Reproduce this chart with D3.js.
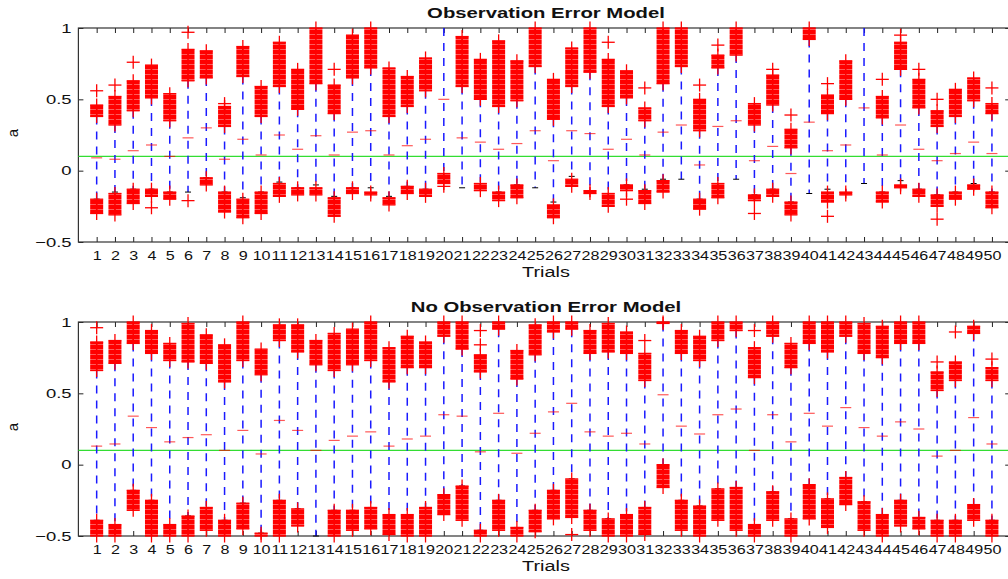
<!DOCTYPE html>
<html>
<head>
<meta charset="utf-8">
<script src="https://cdn.jsdelivr.net/npm/d3@7"></script>
<style>
  body { margin: 0; background: #fff; }
  text { font-family: "Liberation Sans", Arial, sans-serif; }
</style>
</head>
<body>
<div id="chart"></div>
<script>
const trials = [1,2,3,4,5,6,7,8,9,10,11,12,13,14,15,16,17,18,19,20,21,22,23,24,25,
  26,27,28,29,30,31,32,33,34,35,36,37,38,39,40,41,42,43,44,45,46,47,48,49,50];
const yTicks = [-0.5, 0, 0.5, 1];
const refLine = 0.1;

// ---- Observation Error Model ----
// dense outlier clusters [low, high], null where there is none
const obsUpper = [[0.38,0.46],[0.32,0.52],[0.42,0.63],[0.51,0.74],[0.35,0.54],[0.63,0.85],[0.65,0.84],[0.31,0.45],[0.66,0.87],[0.38,0.59],
  [0.59,0.90],[0.43,0.71],[0.61,1.00],[0.40,0.60],[0.65,0.95],[0.72,1.00],[0.38,0.72],[0.45,0.66],[0.56,0.79],null,
  [0.59,0.94],[0.50,0.78],[0.45,0.91],[0.49,0.77],[0.73,1.00],[0.36,0.64],[0.59,0.86],[0.69,1.00],[0.45,0.78],[0.51,0.70],
  [0.35,0.44],[0.61,1.00],[0.73,1.00],[0.28,0.50],[0.72,0.81],[0.81,1.00],[0.32,0.47],[0.46,0.67],[0.16,0.29],[0.92,1.00],
  [0.40,0.53],[0.50,0.77],null,[0.37,0.52],[0.71,0.90],[0.44,0.64],[0.31,0.42],[0.38,0.57],[0.49,0.65],[0.40,0.47]];
const obsMedian = [0.09,0.08,0.14,0.18,0.10,0.23,0.30,0.08,0.22,0.11,0.25,0.15,0.245,0.11,0.27,0.28,0.11,0.175,0.22,0.50,
  0.23,0.20,0.15,0.19,0.28,0.07,0.28,0.26,0.15,0.22,0.11,0.27,0.32,0.04,0.31,0.35,0.07,0.17,-0.02,0.34,
  0.14,0.18,0.44,0.11,0.32,0.15,0.07,0.12,0.20,0.12];
const obsWhiskerLo = [-0.20,-0.15,-0.13,-0.13,-0.15,-0.15,-0.05,-0.15,-0.19,-0.15,-0.08,-0.12,-0.10,-0.18,-0.12,-0.12,-0.18,-0.11,-0.13,-0.02,
  -0.12,-0.09,-0.15,-0.10,-0.12,-0.22,-0.04,-0.14,-0.16,-0.10,-0.13,-0.06,-0.06,-0.20,-0.09,-0.06,-0.17,-0.13,-0.22,-0.16,
  -0.13,-0.16,-0.09,-0.15,-0.07,-0.13,-0.17,-0.15,-0.09,-0.15];
const obsLower = [[-0.30,-0.20],[-0.31,-0.16],[-0.23,-0.13],[-0.18,-0.13],[-0.20,-0.15],null,[-0.10,-0.05],[-0.29,-0.15],[-0.33,-0.20],[-0.30,-0.15],
  [-0.18,-0.09],[-0.17,-0.12],[-0.17,-0.12],[-0.32,-0.19],[-0.16,-0.12],[-0.17,-0.15],[-0.24,-0.19],[-0.16,-0.11],[-0.18,-0.13],[-0.09,-0.02],
  null,[-0.14,-0.09],[-0.21,-0.15],[-0.19,-0.10],null,[-0.33,-0.24],[-0.11,-0.06],[-0.16,-0.14],[-0.25,-0.16],[-0.14,-0.10],
  [-0.23,-0.14],[-0.15,-0.07],null,[-0.27,-0.20],[-0.19,-0.09],null,[-0.21,-0.17],[-0.18,-0.13],[-0.31,-0.22],null,
  [-0.22,-0.15],[-0.17,-0.15],null,[-0.22,-0.15],[-0.12,-0.10],[-0.18,-0.13],[-0.25,-0.17],[-0.20,-0.15],[-0.13,-0.10],[-0.26,-0.15]];
// isolated outliers [trial, value]
const obsExtra = [[1,0.56],[2,0.60],[3,0.76],[4,-0.26],[6,0.97],[6,-0.21],[8,0.47],[14,0.71],[20,-0.11],[29,0.90],
  [30,-0.20],[31,0.58],[34,0.60],[35,0.88],[37,-0.30],[38,0.71],[39,0.39],[41,0.61],[41,-0.32],[44,0.64],
  [45,0.95],[46,0.71],[47,0.50],[47,-0.34],[50,0.58]];

// ---- No Observation Error Model ----
const noObsUpper = [[0.66,0.86],[0.71,0.87],[0.85,1.00],[0.78,0.94],[0.73,0.85],[0.72,0.99],[0.71,0.91],[0.58,0.84],[0.73,1.00],[0.63,0.81],
  [0.87,0.98],[0.79,0.98],[0.70,0.87],[0.66,0.92],[0.70,0.95],[0.73,1.00],[0.58,0.82],[0.68,0.90],[0.68,0.86],[0.90,1.00],
  [0.81,1.00],[0.65,0.77],[0.95,1.00],[0.60,0.80],[0.77,0.98],[0.93,1.00],[0.95,1.00],[0.78,0.94],[0.79,0.99],[0.78,0.93],
  [0.59,0.78],[0.99,1.00],[0.78,0.94],[0.73,0.90],[0.87,1.00],[0.94,1.00],[0.61,0.82],[0.90,1.00],[0.68,0.85],[0.85,1.00],
  [0.79,1.00],[0.90,1.00],[0.78,0.99],[0.75,0.97],[0.85,1.00],[0.85,1.00],[0.52,0.65],[0.59,0.72],[0.92,0.97],[0.59,0.68]];
const noObsMedian = [0.13,0.145,0.34,0.26,0.16,0.19,0.21,0.10,0.24,0.075,0.31,0.24,0.10,0.17,0.20,0.23,0.13,0.18,0.20,0.35,
  0.34,0.09,0.36,0.08,0.22,0.37,0.43,0.23,0.20,0.22,0.145,0.49,0.27,0.215,0.35,0.39,0.10,0.35,0.16,0.36,
  0.27,0.40,0.26,0.20,0.30,0.25,0.06,0.10,0.33,0.145];
const noObsWhiskerLo = [-0.39,-0.42,-0.18,-0.25,-0.42,-0.36,-0.30,-0.39,-0.27,-0.48,-0.25,-0.31,-0.50,-0.32,-0.32,-0.30,-0.35,-0.35,-0.30,-0.21,
  -0.15,-0.46,-0.25,-0.44,-0.32,-0.18,-0.10,-0.32,-0.38,-0.35,-0.30,0.00,-0.25,-0.29,-0.17,-0.16,-0.42,-0.19,-0.38,-0.14,
  -0.24,-0.09,-0.26,-0.35,-0.25,-0.37,-0.39,-0.39,-0.28,-0.39];
const noObsLower = [[-0.50,-0.39],[-0.50,-0.42],[-0.32,-0.18],[-0.50,-0.25],[-0.50,-0.42],[-0.50,-0.36],[-0.46,-0.30],[-0.50,-0.39],[-0.45,-0.27],[-0.50,-0.48],
  [-0.50,-0.25],[-0.43,-0.31],null,[-0.50,-0.32],[-0.46,-0.32],[-0.45,-0.30],[-0.49,-0.35],[-0.50,-0.35],[-0.50,-0.30],[-0.35,-0.21],
  [-0.39,-0.15],[-0.50,-0.46],[-0.46,-0.25],[-0.50,-0.44],[-0.47,-0.32],[-0.38,-0.18],[-0.37,-0.10],[-0.46,-0.32],[-0.50,-0.38],[-0.50,-0.35],
  [-0.49,-0.30],[-0.16,0.00],[-0.46,-0.25],[-0.50,-0.29],[-0.39,-0.17],[-0.46,-0.16],[-0.50,-0.42],[-0.39,-0.19],[-0.50,-0.38],[-0.38,-0.14],
  [-0.44,-0.24],[-0.28,-0.09],[-0.46,-0.26],[-0.50,-0.35],[-0.43,-0.25],[-0.45,-0.37],[-0.50,-0.39],[-0.50,-0.39],[-0.39,-0.28],[-0.50,-0.39]];
const noObsExtra = [[1,0.96],[22,0.94],[22,0.84],[27,-0.49],[31,0.87],[37,0.94],[47,0.72],[48,0.93],[50,0.74]];

const WIDTH = 1008, HEIGHT = 579;
const STRETCH = 1.42;   // the figure's text is drawn wide
const X_STRETCH = 1.24; // trial numbers, kept just narrow enough not to collide
const svg = d3.select("#chart").append("svg")
  .attr("width", WIDTH).attr("height", HEIGHT);

// lightly striped fill for the overlapping '+' clusters
const pat = svg.append("defs").append("pattern")
  .attr("id", "stack").attr("patternUnits", "userSpaceOnUse")
  .attr("width", 13).attr("height", 5);
pat.append("rect").attr("width", 13).attr("height", 5).attr("fill", "#ff5a5a");
pat.append("rect").attr("width", 13).attr("height", 4).attr("fill", "#ff0000");

const x = d3.scaleLinear().domain([0, 51]).range([78.4, 1010.2]);

function wideText(sel, sx) {
  sel.attr("transform", function () {
    const t = d3.select(this).attr("transform");
    return (t ? t + " " : "") + `scale(${sx},1)`;
  });
}

function drawPanel(top, bottom, title, upper, median, whiskerLo, lower, extra) {
  const y = d3.scaleLinear().domain([-0.5, 1]).range([bottom, top]);
  const g = svg.append("g");
  const left = x.range()[0], right = x.range()[1];

  // axes with inward ticks
  const xb = g.append("g").attr("transform", `translate(0,${bottom})`)
    .call(d3.axisBottom(x).tickValues(trials).tickSizeInner(-5).tickSizeOuter(0).tickPadding(9));
  const xt = g.append("g").attr("transform", `translate(0,${top})`)
    .call(d3.axisTop(x).tickValues(trials).tickSizeInner(-5).tickSizeOuter(0).tickFormat(""));
  const yl = g.append("g").attr("transform", `translate(${left},0)`)
    .call(d3.axisLeft(y).tickValues(yTicks).tickSizeInner(-5).tickSizeOuter(0)
      .tickPadding(4.8).tickFormat(d3.format("~g")));
  const yr = g.append("g").attr("transform", `translate(${right},0)`)
    .call(d3.axisRight(y).tickValues(yTicks).tickSizeInner(-5).tickSizeOuter(0).tickFormat(""));
  [xb, xt, yl, yr].forEach(a => {
    a.select(".domain").remove();
    a.selectAll("line").attr("stroke", "#222");
    a.selectAll("text").attr("font-size", "13px").attr("fill", "#111");
  });
  xb.selectAll("text").call(wideText, X_STRETCH);
  yl.selectAll("text").call(wideText, STRETCH);

  g.append("rect")
    .attr("x", left).attr("y", top)
    .attr("width", right - left).attr("height", bottom - top)
    .attr("fill", "none").attr("stroke", "#333").attr("stroke-width", 1.2);

  // reference line
  g.append("line")
    .attr("x1", left).attr("x2", right)
    .attr("y1", y(refLine)).attr("y2", y(refLine))
    .attr("stroke", "#33dd33").attr("stroke-width", 1.2);

  const rows = trials.map((t, i) => ({
    t, upper: upper[i], median: median[i], lo: whiskerLo[i], lower: lower[i]
  }));

  // whiskers
  g.selectAll(".whisker").data(rows).enter().append("line")
    .attr("class", "whisker")
    .attr("x1", d => x(d.t)).attr("x2", d => x(d.t))
    .attr("y1", d => y(d.upper ? d.upper[0] : 1))
    .attr("y2", d => y(d.lo))
    .attr("stroke", "#1a1aff").attr("stroke-width", 1.5)
    .attr("stroke-dasharray", "8,7");

  // whisker caps
  g.selectAll(".cap").data(rows).enter().append("line")
    .attr("class", "cap")
    .attr("x1", d => x(d.t) - 3).attr("x2", d => x(d.t) + 3)
    .attr("y1", d => y(d.lo)).attr("y2", d => y(d.lo))
    .attr("stroke", "#000").attr("stroke-width", 1);

  // medians
  g.selectAll(".median").data(rows).enter().append("line")
    .attr("class", "median")
    .attr("x1", d => x(d.t) - 5.5).attr("x2", d => x(d.t) + 5.5)
    .attr("y1", d => y(d.median)).attr("y2", d => y(d.median))
    .attr("stroke", "#ff0000").attr("stroke-width", 1.2).attr("opacity", 0.65);

  // dense outlier clusters
  const blocks = [];
  rows.forEach(d => {
    if (d.upper) blocks.push({ t: d.t, r: d.upper });
    if (d.lower) blocks.push({ t: d.t, r: d.lower });
  });
  g.selectAll(".block").data(blocks).enter().append("rect")
    .attr("class", "block")
    .attr("x", d => x(d.t) - 6.5).attr("width", 13)
    .attr("y", d => y(d.r[1]))
    .attr("height", d => Math.max(1.5, y(d.r[0]) - y(d.r[1])))
    .attr("fill", "url(#stack)");
  g.selectAll(".spine").data(blocks).enter().append("line")
    .attr("class", "spine")
    .attr("x1", d => x(d.t)).attr("x2", d => x(d.t))
    .attr("y1", d => y(d.r[1])).attr("y2", d => y(d.r[0]))
    .attr("stroke", "#ff0000").attr("stroke-width", 1.5);

  // plus markers: cluster ends and isolated outliers
  const pluses = [];
  blocks.forEach(b => { pluses.push([b.t, b.r[0]]); pluses.push([b.t, b.r[1]]); });
  extra.forEach(e => pluses.push(e));
  const p = g.selectAll(".plus").data(pluses).enter().append("g")
    .attr("class", "plus")
    .attr("transform", d => `translate(${x(d[0])},${y(d[1])})`);
  p.append("line").attr("x1", -6.5).attr("x2", 6.5)
    .attr("stroke", "#ff0000").attr("stroke-width", 1.3);
  p.append("line").attr("y1", -6.5).attr("y2", 6.5)
    .attr("stroke", "#ff0000").attr("stroke-width", 1.3);

  // labels
  const mid = 546;
  g.append("text")
    .attr("transform", `translate(${mid},${top - 10}) scale(1.45,1)`)
    .attr("text-anchor", "middle").attr("font-size", "14px").attr("font-weight", "bold")
    .attr("fill", "#111")
    .text(title);
  g.append("text")
    .attr("transform", `translate(${mid},${bottom + 35}) scale(${STRETCH},1)`)
    .attr("text-anchor", "middle").attr("font-size", "14px").attr("fill", "#111")
    .text("Trials");
  g.append("text")
    .attr("transform", `translate(18,${(top + bottom) / 2 - 2}) rotate(-90)`)
    .attr("text-anchor", "middle").attr("font-size", "15px").attr("fill", "#111")
    .text("a");
}

drawPanel(28, 242, "Observation Error Model", obsUpper, obsMedian, obsWhiskerLo, obsLower, obsExtra);
drawPanel(322, 536, "No Observation Error Model", noObsUpper, noObsMedian, noObsWhiskerLo, noObsLower, noObsExtra);
</script>
</body>
</html>
